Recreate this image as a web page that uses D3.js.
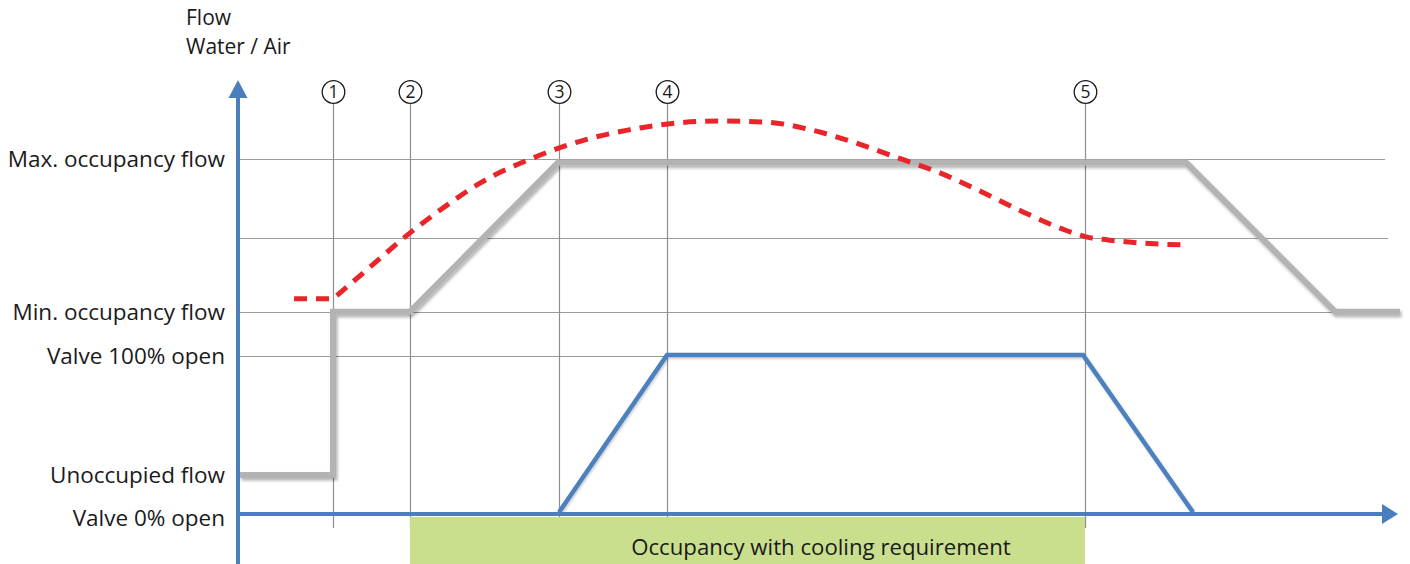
<!DOCTYPE html>
<html>
<head>
<meta charset="utf-8">
<script src="https://cdn.jsdelivr.net/npm/d3@7"></script>
<style>
  html, body { margin: 0; padding: 0; background: #fff; }
  svg { display: block; }
  text { font-family: "Open Sans", "Noto Sans", sans-serif; fill: #1a1a1a; }
</style>
</head>
<body>
<svg id="chart" width="1410" height="564"></svg>
<script>
// ---------- DATA ----------
const axisTitle = ["Flow", "Water / Air"];
const levelLabels = ["Max. occupancy flow", "Min. occupancy flow", "Valve 100% open", "Unoccupied flow", "Valve 0% open"];
const levelValues = [100, 56.8, 44.5, 11, 0];
const gridValues = [100, 77.7, 56.8, 44.5];
const gridEnds = [114.7, 115.0, 116.2, 84.7];

const markerLabels = ["1", "2", "3", "4", "5"];
const markerTimes = [9.45, 17.2, 32.05, 42.9, 84.7];

// Air flow (grey)
const flowTimes  = [0.2, 9.5, 9.5, 17.2, 32.0, 94.8, 109.7, 116.2];
const flowValues = [11, 11, 57, 57, 99, 99, 57, 57];

// Valve position (blue)
const valveTimes  = [32.1, 42.9, 84.5, 95.5];
const valveValues = [0.5, 44.8, 44.8, 0.5];

// Cooling demand (red dashed)
const demandTimes  = [5.6, 9.5, 13.3, 17.2, 20.9, 24.2, 29.5, 34.7, 39.1, 43.7, 48.2, 52.8, 57.3, 61.8, 66.0, 70.2, 74.4, 78.5, 82.7, 84.9, 87.0, 91.7, 94.5];
const demandValues = [60.6, 60.6, 69.8, 79.2, 87.0, 93.2, 100.3, 105.4, 108.2, 110.1, 110.7, 110.4, 108.2, 104.5, 100.3, 96.1, 90.7, 85.1, 80.0, 78.0, 77.2, 76.1, 75.8];

// Occupancy band
const bandLabel = "Occupancy with cooling requirement";
const bandStart = 17.2, bandEnd = 84.7, bandLabelTime = 58.3;

// ---------- SCALES ----------
const svg = d3.select("#chart");
const x = d3.scaleLinear().domain([0, 116]).range([238, 1398]);
const y = d3.scaleLinear().domain([0, 100]).range([514, 159]);

const defs = svg.append("defs");
const sh = defs.append("filter").attr("id", "shadow").attr("x", "-10%").attr("y", "-10%").attr("width", "120%").attr("height", "130%");
sh.append("feDropShadow").attr("dx", 1.5).attr("dy", 2.5).attr("stdDeviation", 1.6).attr("flood-color", "#000").attr("flood-opacity", 0.3);
const sh2 = defs.append("filter").attr("id", "shadow2").attr("x", "-10%").attr("y", "-10%").attr("width", "120%").attr("height", "130%");
sh2.append("feDropShadow").attr("dx", 1).attr("dy", 1.5).attr("stdDeviation", 1).attr("flood-color", "#000").attr("flood-opacity", 0.22);

// ---------- GRID ----------
svg.append("g").selectAll("line").data(gridValues).join("line")
  .attr("x1", x(0) + 2).attr("x2", (d, i) => x(gridEnds[i]))
  .attr("y1", d => Math.round(y(d)) + 0.5).attr("y2", d => Math.round(y(d)) + 0.5)
  .attr("stroke", "#9a9a9a").attr("stroke-width", 1.2);

// marker verticals
svg.append("g").selectAll("line").data(markerTimes).join("line")
  .attr("x1", d => Math.round(x(d)) + 0.5).attr("x2", d => Math.round(x(d)) + 0.5)
  .attr("y1", 104).attr("y2", 528)
  .attr("stroke", "#8e8e8e").attr("stroke-width", 1.2);

// markers (circled numbers)
const mk = svg.append("g").selectAll("g").data(markerTimes).join("g")
  .attr("transform", d => `translate(${Math.round(x(d)) + 0.5},92)`);
mk.append("circle").attr("r", 11.3).attr("fill", "#fff").attr("stroke", "#1a1a1a").attr("stroke-width", 1.3);
mk.append("text").text((d, i) => markerLabels[i])
  .attr("text-anchor", "middle").attr("dy", "0.36em").style("font-size", "17.5px");

// ---------- BAND ----------
svg.append("rect")
  .attr("x", x(bandStart)).attr("width", x(bandEnd) - x(bandStart))
  .attr("y", 517).attr("height", 564 - 517)
  .attr("fill", "#cadf8e");
svg.append("text").text(bandLabel)
  .attr("x", x(bandLabelTime)).attr("y", 547)
  .attr("text-anchor", "middle").attr("dy", "0.35em").style("font-size", "22.2px");

// ---------- SERIES ----------
const lineGen = d3.line().x(d => x(d[0])).y(d => y(d[1]));

svg.append("path")
  .datum(flowTimes.map((t, i) => [t, flowValues[i]]))
  .attr("d", lineGen)
  .attr("fill", "none").attr("stroke", "#b3b3b3").attr("stroke-width", 6)
  .attr("stroke-linejoin", "miter").attr("filter", "url(#shadow)");

// demand: flat lead-in (linear) then smooth curve, as one continuous dashed path
const demandPts = demandTimes.map((t, i) => [t, demandValues[i]]);
const leadIn = lineGen(demandPts.slice(0, 2));
const curvePart = d3.line().x(d => x(d[0])).y(d => y(d[1])).curve(d3.curveMonotoneX)(demandPts.slice(1));
const demandPath = leadIn + curvePart.replace(/^M[^A-Za-z]*/, "");
svg.append("path")
  .attr("d", demandPath)
  .attr("fill", "none").attr("stroke", "#e8262a").attr("stroke-width", 5)
  .attr("stroke-dasharray", "13,9");

svg.append("path")
  .datum(valveTimes.map((t, i) => [t, valveValues[i]]))
  .attr("d", lineGen)
  .attr("fill", "none").attr("stroke", "#4e80bf").attr("stroke-width", 4.5)
  .attr("stroke-linejoin", "miter").attr("filter", "url(#shadow2)");

// ---------- AXES ----------
const axisColor = "#4a7ebd";
svg.append("line").attr("x1", x(0)).attr("x2", x(0)).attr("y1", 96).attr("y2", 564)
  .attr("stroke", axisColor).attr("stroke-width", 4);
svg.append("path").attr("d", `M${x(0)},80 L${x(0) - 9.5},98 L${x(0) + 9.5},98 Z`).attr("fill", axisColor);
svg.append("line").attr("x1", x(0) - 2).attr("x2", x(116) - 14).attr("y1", y(0)).attr("y2", y(0))
  .attr("stroke", axisColor).attr("stroke-width", 4);
svg.append("path").attr("d", `M${x(116)},${y(0)} L${x(116) - 16},${y(0) - 10} L${x(116) - 16},${y(0) + 10} Z`).attr("fill", axisColor);

// level labels
svg.append("g").selectAll("text").data(levelLabels).join("text")
  .text(d => d)
  .attr("x", 225).attr("y", (d, i) => y(levelValues[i]) + (i === 4 ? 4 : 0))
  .attr("text-anchor", "end").attr("dy", "0.35em").style("font-size", "22.5px");

// axis title (two lines)
svg.append("g").selectAll("text").data(axisTitle).join("text")
  .attr("x", 186).attr("y", (d, i) => 25 + i * 29)
  .style("font-size", "21px")
  .text(d => d);
</script>
</body>
</html>
